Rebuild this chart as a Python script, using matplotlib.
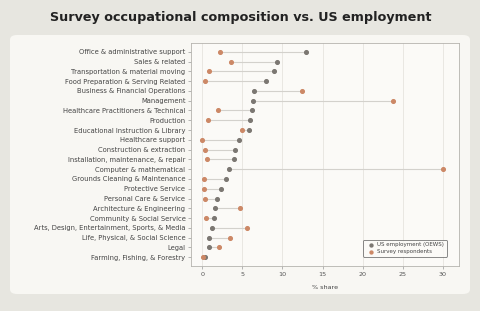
import matplotlib
matplotlib.use("Agg")
import matplotlib.pyplot as plt
from matplotlib.patches import FancyBboxPatch

occupations = [
    "Office & administrative support",
    "Sales & related",
    "Transportation & material moving",
    "Food Preparation & Serving Related",
    "Business & Financial Operations",
    "Management",
    "Healthcare Practitioners & Technical",
    "Production",
    "Educational Instruction & Library",
    "Healthcare support",
    "Construction & extraction",
    "Installation, maintenance, & repair",
    "Computer & mathematical",
    "Grounds Cleaning & Maintenance",
    "Protective Service",
    "Personal Care & Service",
    "Architecture & Engineering",
    "Community & Social Service",
    "Arts, Design, Entertainment, Sports, & Media",
    "Life, Physical, & Social Science",
    "Legal",
    "Farming, Fishing, & Forestry",
]
us_share = [12.9, 9.3, 8.9, 7.9, 6.4, 6.3, 6.2, 5.9, 5.8, 4.6, 4.1, 3.9,
            3.3, 2.9, 2.4, 1.8, 1.65, 1.5, 1.25, 0.87, 0.8, 0.3]
survey_share = [2.25, 3.6, 0.8, 0.4, 12.4, 23.8, 2.0, 0.7, 4.9, 0.0, 0.4, 0.65,
                30.0, 0.2, 0.25, 0.3, 4.65, 0.5, 5.6, 3.5, 2.1, 0.05]
x_ticks = [0, 5, 10, 15, 20, 25, 30]

GREY = "#7b7772"
ORANGE = "#cc8866"

fig = plt.figure(figsize=(4.81, 3.11), dpi=100)
fig.patch.set_facecolor("#e7e6e0")

# rounded card behind the plot
card = FancyBboxPatch((10 / 481, 1 - 294 / 311), 460 / 481, 259 / 311,
                      boxstyle="round,pad=0,rounding_size=0.015",
                      transform=fig.transFigure, facecolor="#f8f7f3",
                      edgecolor="none", zorder=-10)
fig.patches.append(card)

fig.text(0.5, 0.945, "Survey occupational composition vs. US employment",
         ha="center", va="center", fontsize=9.2, fontweight="bold", color="#222222")

ax = fig.add_axes([191 / 481, 1 - 266 / 311, 268 / 481, 223 / 311])
ax.set_facecolor("#fbfaf7")

ys = list(range(len(occupations)))
for y, a, b in zip(ys, us_share, survey_share):
    ax.plot([a, b], [y, y], color="#d3d1cc", linewidth=0.8, zorder=1)
ax.scatter(us_share, ys, s=7, color=GREY, zorder=3, label="US employment (OEWS)")
ax.scatter(survey_share, ys, s=7, color=ORANGE, zorder=3, label="Survey respondents")

ax.set_yticks(ys)
ax.set_yticklabels(occupations, fontsize=4.9, color="#444444")
ax.set_ylim(len(occupations) - 0.1, -0.9)
ax.set_xlim(-1.4, 32.0)
ax.set_xticks(x_ticks)
ax.set_xticklabels([str(t) for t in x_ticks], fontsize=4.6, color="#555555")
ax.set_xlabel("% share", fontsize=4.6, color="#444444", labelpad=6)
ax.tick_params(axis="both", length=2, width=0.5, color="#999999", pad=2)
ax.grid(axis="x", color="#e6e4df", linewidth=0.6, zorder=0)
ax.set_axisbelow(True)
for sp in ax.spines.values():
    sp.set_color("#b5b3ae")
    sp.set_linewidth(0.6)

leg = ax.legend(loc="lower right", fontsize=4.0, frameon=True, fancybox=True,
                markerscale=0.8, handletextpad=0.1, borderpad=0.45,
                labelspacing=0.3, bbox_to_anchor=(0.965, 0.03))
leg.get_frame().set_edgecolor("#555555")
leg.get_frame().set_linewidth(0.6)
leg.get_frame().set_facecolor("#fbfaf7")
for t in leg.get_texts():
    t.set_color("#444444")

fig.savefig("out.png", dpi=100, facecolor=fig.get_facecolor())
